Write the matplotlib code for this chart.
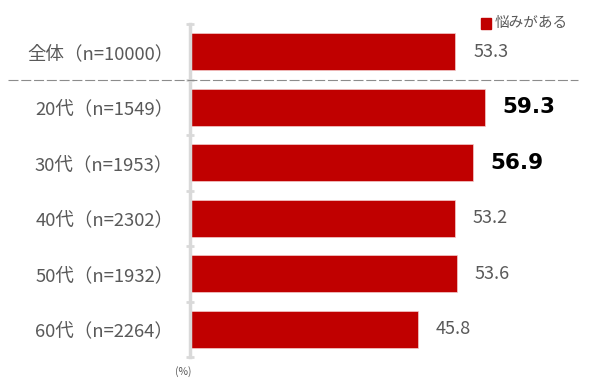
import matplotlib.pyplot as plt

plt.rcParams['font.family'] = ['Noto Sans CJK JP', 'DejaVu Sans']

categories = ['全体（n=10000）', '20代（n=1549）', '30代（n=1953）',
              '40代（n=2302）', '50代（n=1932）', '60代（n=2264）']
values = [53.3, 59.3, 56.9, 53.2, 53.6, 45.8]
highlight = [False, True, True, False, False, False]

fig = plt.figure(figsize=(6, 3.89), dpi=100)
ax = fig.add_axes([0.3167, 0.0823, 0.6466, 0.8557])

y = list(range(len(categories)))
ax.barh(y, values, height=0.67, color='#C00000', edgecolor='#F4CCCC', linewidth=0.5, zorder=2)
ax.set_ylim(len(categories) - 0.5, -0.5)
ax.set_xlim(0, 78)

for i, v in enumerate(values):
    if highlight[i]:
        ax.text(v + 3.4, i, f'{v:.1f}', va='center', ha='left', fontsize=15.5,
                fontweight='bold', color='black', family='DejaVu Sans')
    else:
        ax.text(v + 3.6, i, f'{v:.1f}', va='center', ha='left', fontsize=13,
                color='#595959')

ax.set_yticks(y)
ax.set_yticklabels(categories, fontsize=13.3, color='#595959')
ax.tick_params(axis='y', length=0, pad=12)
ax.set_yticks([i - 0.5 for i in range(len(categories) + 1)], minor=True)
ax.tick_params(axis='y', which='minor', length=6, width=2, color='#D9D9D9', direction='inout')
ax.set_xticks([])

for s in ['top', 'right', 'bottom']:
    ax.spines[s].set_visible(False)
ax.spines['left'].set_color('#D9D9D9')
ax.spines['left'].set_linewidth(2.5)

# separator between total and age groups
ax.plot([-0.469, 1.0], [0.5, 0.5], transform=ax.get_yaxis_transform(),
        color='#8C8C8C', linestyle=(0, (9, 2.5)), linewidth=0.8, clip_on=False, zorder=3)

# legend
fig.patches.append(plt.Rectangle((481 / 600, 1 - 29 / 389), 10 / 600, 11 / 389,
                                 transform=fig.transFigure, color='#C00000'))
fig.text(495 / 600, 1 - 23 / 389, '悩みがある', fontsize=10.5, color='#595959', va='center')

fig.text(183 / 600, 1 - 372 / 389, '(%)', fontsize=7.5, color='#595959', ha='center', va='center')

fig.savefig('out.png', dpi=100)
